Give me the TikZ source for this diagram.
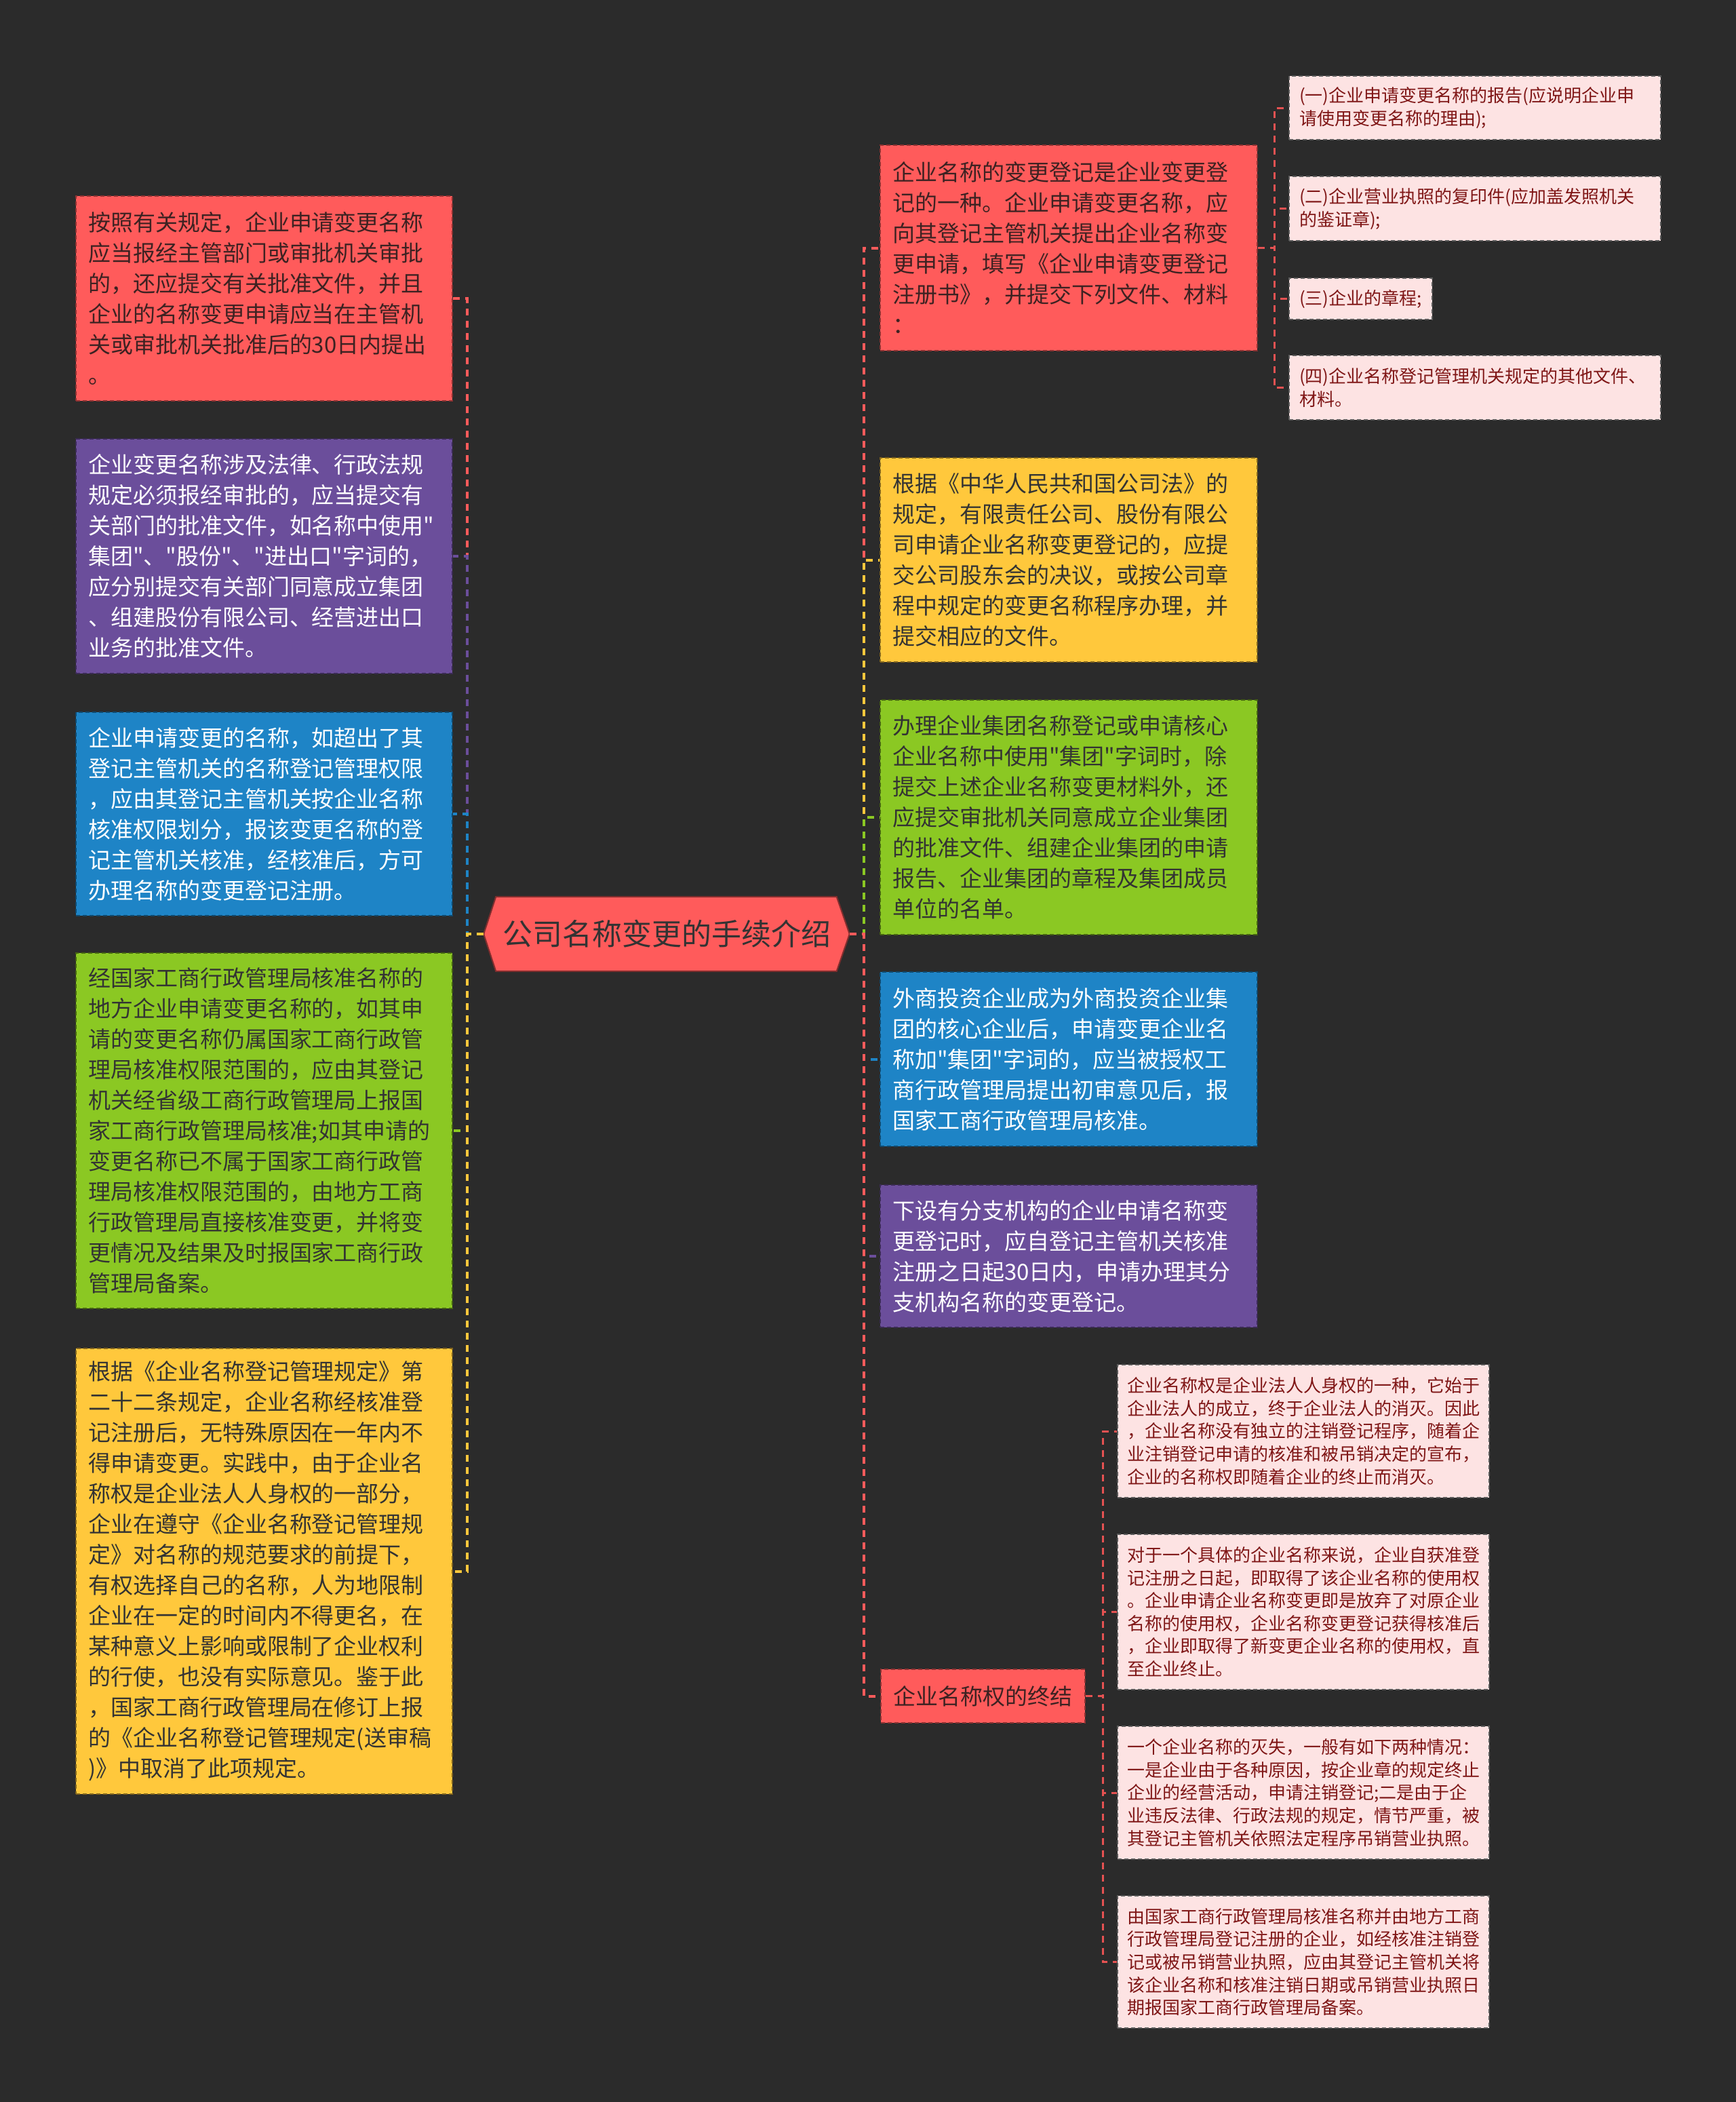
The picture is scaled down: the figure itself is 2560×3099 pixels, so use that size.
\documentclass[tikz,border=0pt]{standalone}
\usepackage{fontspec}
\setmainfont{Noto Sans CJK SC}[Ligatures=TeXOff]
\usetikzlibrary{backgrounds,calc}
\definecolor{bgc}{HTML}{2B2B2B}
\definecolor{cred}{HTML}{FF5B5B}
\definecolor{cpur}{HTML}{6B4E9B}
\definecolor{cblue}{HTML}{1E84C6}
\definecolor{cgreen}{HTML}{8BC823}
\definecolor{cyel}{HTML}{FFC83C}
\definecolor{cpink}{HTML}{FDE3E3}
\definecolor{tpink}{HTML}{7F1616}
\definecolor{tred}{HTML}{3D2222}
\definecolor{tgray}{HTML}{333333}
\definecolor{pinkline}{HTML}{5A5A5A}
\begin{document}
\begin{tikzpicture}[x=0.25pt,y=-0.25pt,
  edge/.style={line width=1pt, dash pattern=on 2.5pt off 2pt},
  subedge/.style={line width=0.75pt, dash pattern=on 2.5pt off 2pt, draw=cred!90!black},
  boxline/.style={line width=0.5pt, dash pattern=on 1.5pt off 1pt},
  lbox/.style={boxline, anchor=north west, inner xsep=4.5pt, inner ysep=0pt, align=left,
    text width=129.75pt, font=\fontsize{8.25pt}{11.25pt}\selectfont},
  rbox/.style={boxline, anchor=north west, inner xsep=4.5pt, inner ysep=0pt, align=left,
    text width=130pt, font=\fontsize{8.25pt}{11.25pt}\selectfont},
  redbox/.style={fill=cred, draw=cred!55!black, text=tred},
  purbox/.style={fill=cpur, draw=cpur!55!black, text=white},
  bluebox/.style={fill=cblue, draw=cblue!55!black, text=white},
  greenbox/.style={fill=cgreen, draw=cgreen!50!black, text=tgray},
  yelbox/.style={fill=cyel, draw=cyel!50!black, text=tgray},
  pbox/.style={boxline, anchor=north west, inner xsep=3.75pt, inner ysep=0pt, align=left,
    fill=cpink, draw=pinkline, text=tpink, font=\fontsize{6.5pt}{8.5pt}\selectfont},
  dbox/.style={boxline, anchor=north west, inner xsep=3.5pt, inner ysep=0pt, align=left,
    text width=130pt, fill=cpink, draw=pinkline, text=tpink, font=\fontsize{6.5pt}{8.4pt}\selectfont}
]
\useasboundingbox (0,0) rectangle (2560,3099);

% root
\node[font=\fontsize{11pt}{13pt}\selectfont, text=tgray, minimum width=134.5pt,
  minimum height=27pt, inner sep=0pt] (root) at (983,1377) {公司名称变更的手续介绍};

\begin{scope}[on background layer]
\fill[bgc] (0,0) rectangle (2560,3099);
\filldraw[fill=cred, draw=cred!50!black, line width=0.5pt] (root.west) -- ($(root.north west)+(18,0)$)
  -- ($(root.north east)+(-19,0)$) -- (root.east) -- ($(root.south east)+(-19,0)$)
  -- ($(root.south west)+(18,0)$) -- cycle;
\end{scope}

% left boxes
\node[lbox, redbox, minimum height=75.5pt] (L1) at (111,288) {按照有关规定，企业申请变更名称\\应当报经主管部门或审批机关审批\\的，还应提交有关批准文件，并且\\企业的名称变更申请应当在主管机\\关或审批机关批准后的30日内提出\\。};
\node[lbox, purbox, minimum height=86.5pt] (L2) at (111,646) {企业变更名称涉及法律、行政法规\\规定必须报经审批的，应当提交有\\关部门的批准文件，如名称中使用"\\集团"、"股份"、"进出口"字词的，\\应分别提交有关部门同意成立集团\\、组建股份有限公司、经营进出口\\业务的批准文件。};
\node[lbox, bluebox, minimum height=75pt] (L3) at (111,1049) {企业申请变更的名称，如超出了其\\登记主管机关的名称登记管理权限\\，应由其登记主管机关按企业名称\\核准权限划分，报该变更名称的登\\记主管机关核准，经核准后，方可\\办理名称的变更登记注册。};
\node[lbox, greenbox, minimum height=131pt] (L4) at (111,1404) {经国家工商行政管理局核准名称的\\地方企业申请变更名称的，如其申\\请的变更名称仍属国家工商行政管\\理局核准权限范围的，应由其登记\\机关经省级工商行政管理局上报国\\家工商行政管理局核准;如其申请的\\变更名称已不属于国家工商行政管\\理局核准权限范围的，由地方工商\\行政管理局直接核准变更，并将变\\更情况及结果及时报国家工商行政\\管理局备案。};
\node[lbox, yelbox, minimum height=164.25pt] (L5) at (111,1987) {根据《企业名称登记管理规定》第\\二十二条规定，企业名称经核准登\\记注册后，无特殊原因在一年内不\\得申请变更。实践中，由于企业名\\称权是企业法人人身权的一部分，\\企业在遵守《企业名称登记管理规\\定》对名称的规范要求的前提下，\\有权选择自己的名称，人为地限制\\企业在一定的时间内不得更名，在\\某种意义上影响或限制了企业权利\\的行使，也没有实际意见。鉴于此\\，国家工商行政管理局在修订上报\\的《企业名称登记管理规定(送审稿\\)》中取消了此项规定。};

% right boxes
\node[rbox, redbox, minimum height=75.75pt] (R1) at (1297,213) {企业名称的变更登记是企业变更登\\记的一种。企业申请变更名称，应\\向其登记主管机关提出企业名称变\\更申请，填写《企业申请变更登记\\注册书》，并提交下列文件、材料\\：};
\node[rbox, yelbox, minimum height=75.25pt] (R2) at (1297,674) {根据《中华人民共和国公司法》的\\规定，有限责任公司、股份有限公\\司申请企业名称变更登记的，应提\\交公司股东会的决议，或按公司章\\程中规定的变更名称程序办理，并\\提交相应的文件。};
\node[rbox, greenbox, minimum height=86.5pt] (R3) at (1297,1031) {办理企业集团名称登记或申请核心\\企业名称中使用"集团"字词时，除\\提交上述企业名称变更材料外，还\\应提交审批机关同意成立企业集团\\的批准文件、组建企业集团的申请\\报告、企业集团的章程及集团成员\\单位的名单。};
\node[rbox, bluebox, minimum height=64.25pt] (R4) at (1297,1432) {外商投资企业成为外商投资企业集\\团的核心企业后，申请变更企业名\\称加"集团"字词的，应当被授权工\\商行政管理局提出初审意见后，报\\国家工商行政管理局核准。};
\node[rbox, purbox, minimum height=52.5pt] (R5) at (1297,1746) {下设有分支机构的企业申请名称变\\更登记时，应自登记主管机关核准\\注册之日起30日内，申请办理其分\\支机构名称的变更登记。};
\node[boxline, redbox, anchor=north west, inner sep=0pt, minimum width=75.25pt, minimum height=19.75pt,
  font=\fontsize{8.25pt}{10pt}\selectfont] (R6) at (1298,2460) {企业名称权的终结};

% R1 children
\node[pbox, text width=129.5pt, minimum height=23.5pt] (C1) at (1900,111) {(一)企业申请变更名称的报告(应说明企业申\\请使用变更名称的理由);};
\node[pbox, text width=129.5pt, minimum height=23.75pt] (C2) at (1900,259) {(二)企业营业执照的复印件(应加盖发照机关\\的鉴证章);};
\node[pbox, minimum width=52pt, minimum height=15.25pt] (C3) at (1900,409) {(三)企业的章程;};
\node[pbox, text width=129.5pt, minimum height=23.75pt] (C4) at (1900,523) {(四)企业名称登记管理机关规定的其他文件、\\材料。};

% R6 children
\node[dbox, minimum height=49pt] (D1) at (1647,2011) {企业名称权是企业法人人身权的一种，它始于\\企业法人的成立，终于企业法人的消灭。因此\\，企业名称没有独立的注销登记程序，随着企\\业注销登记申请的核准和被吊销决定的宣布，\\企业的名称权即随着企业的终止而消灭。};
\node[dbox, minimum height=57.25pt] (D2) at (1647,2261) {对于一个具体的企业名称来说，企业自获准登\\记注册之日起，即取得了该企业名称的使用权\\。企业申请企业名称变更即是放弃了对原企业\\名称的使用权，企业名称变更登记获得核准后\\，企业即取得了新变更企业名称的使用权，直\\至企业终止。};
\node[dbox, minimum height=49pt] (D3) at (1647,2544) {一个企业名称的灭失，一般有如下两种情况：\\一是企业由于各种原因，按企业章的规定终止\\企业的经营活动，申请注销登记;二是由于企\\业违反法律、行政法规的规定，情节严重，被\\其登记主管机关依照法定程序吊销营业执照。};
\node[dbox, minimum height=48.75pt] (D4) at (1647,2794) {由国家工商行政管理局核准名称并由地方工商\\行政管理局登记注册的企业，如经核准注销登\\记或被吊销营业执照，应由其登记主管机关将\\该企业名称和核准注销日期或吊销营业执照日\\期报国家工商行政管理局备案。};

% connectors, left
\draw[edge, cred] (root.west) -- ++(-24,0) |- (L1.east);
\draw[edge, cpur] (root.west) -- ++(-24,0) |- (L2.east);
\draw[edge, cblue] (root.west) -- ++(-24,0) |- (L3.east);
\draw[edge, cgreen] (root.west) -- ++(-24,0) |- (L4.east);
\draw[edge, cyel] (root.west) -- ++(-24,0) |- (L5.east);
% connectors, right
\draw[edge, cred] (root.east) -- ++(21,0) |- (R1.west);
\draw[edge, cyel] (root.east) -- ++(21,0) |- (R2.west);
\draw[edge, cgreen] (root.east) -- ++(21,0) |- (R3.west);
\draw[edge, cblue] (root.east) -- ++(21,0) |- (R4.west);
\draw[edge, cpur] (root.east) -- ++(21,0) |- (R5.west);
\draw[edge, cred] (root.east) -- ++(21,0) |- (R6.west);
% sub connectors
\draw[subedge] (R1.east) -- ++(24,0) |- (C1.west);
\draw[subedge] (R1.east) -- ++(24,0) |- (C2.west);
\draw[subedge] (R1.east) -- ++(24,0) |- (C3.west);
\draw[subedge] (R1.east) -- ++(24,0) |- (C4.west);
\draw[subedge] (R6.east) -- ++(25,0) |- (D1.west);
\draw[subedge] (R6.east) -- ++(25,0) |- (D2.west);
\draw[subedge] (R6.east) -- ++(25,0) |- (D3.west);
\draw[subedge] (R6.east) -- ++(25,0) |- (D4.west);
\end{tikzpicture}
\end{document}
